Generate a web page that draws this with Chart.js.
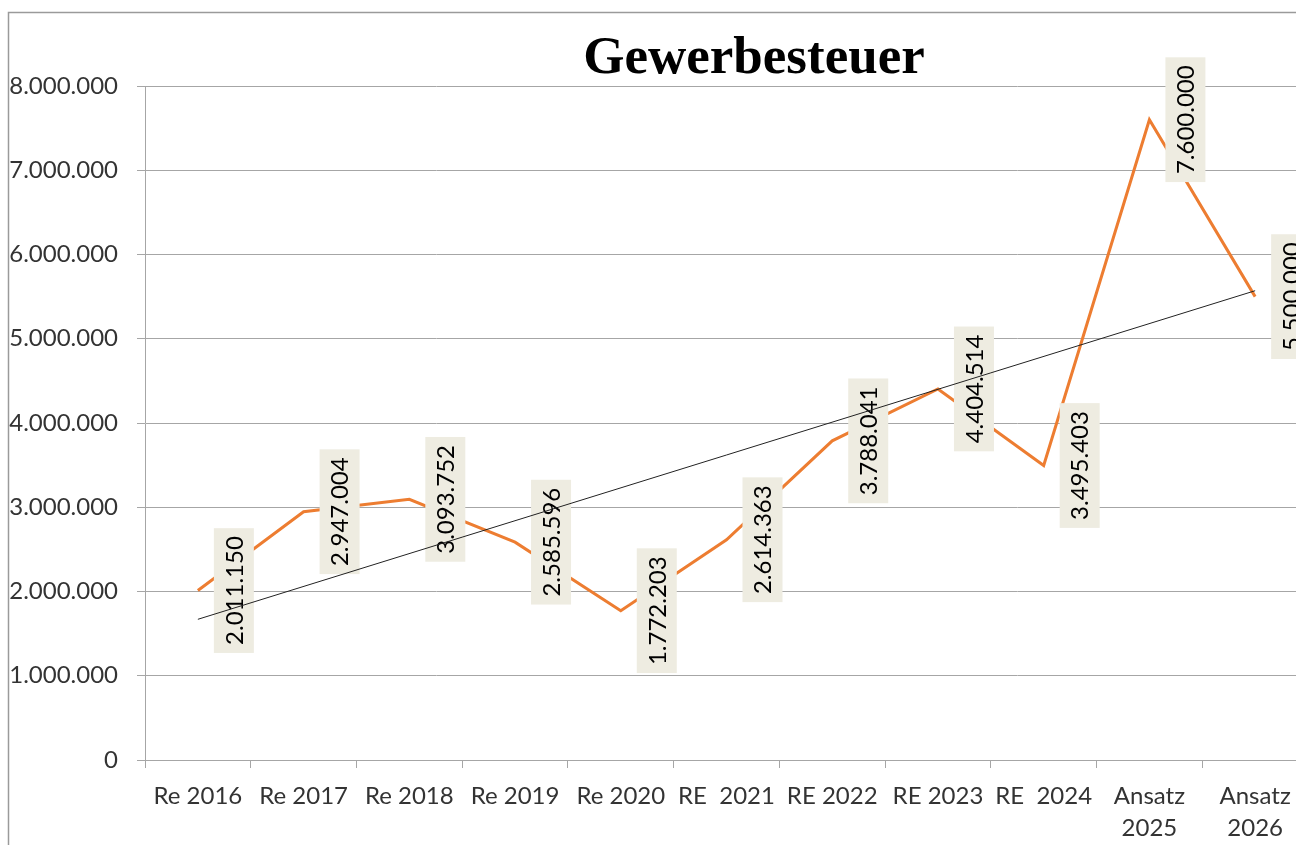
<!DOCTYPE html>
<html>
<head>
<meta charset="utf-8">
<script src="https://cdn.jsdelivr.net/npm/chart.js@4/dist/chart.umd.min.js"></script>
<style>
html,body{margin:0;padding:0;background:#fff;overflow:hidden;width:1296px;height:845px;}
#c{position:absolute;left:0;top:0;}
</style>
</head>
<body>
<canvas id="c" width="1330" height="845"></canvas>
<script>
const chartTitle = 'Gewerbesteuer';
const categories = ['Re 2016','Re 2017','Re 2018','Re 2019','Re 2020','RE  2021','RE 2022','RE 2023','RE  2024',['Ansatz','2025'],['Ansatz','2026']];
const values = [2011150, 2947004, 3093752, 2585596, 1772203, 2614363, 3788041, 4404514, 3495403, 7600000, 5500000];
const trendValues = [1670000, null, null, null, null, null, null, null, null, null, 5570000];
const yMin = 0, yMax = 8000000, yStep = 1000000;

function fmt(v){ return String(Math.round(v)).replace(/\B(?=(\d{3})+(?!\d))/g,'.'); }

const FONT = 'Lato, "Open Sans", sans-serif';
const GRID = '#a6a6a6';

const framePlugin = {
  id:'frame',
  beforeDraw(chart){
    const ctx = chart.ctx;
    ctx.save();
    ctx.strokeStyle = '#9a9a9a';
    ctx.lineWidth = 1.5;
    ctx.beginPath();
    ctx.moveTo(8.5, 900);
    ctx.lineTo(8.5, 12.5);
    ctx.lineTo(1400, 12.5);
    ctx.stroke();
    ctx.fillStyle = '#000';
    ctx.font = 'bold 53px "Liberation Serif", serif';
    ctx.textAlign = 'center';
    ctx.textBaseline = 'alphabetic';
    ctx.fillText(chartTitle, 754, 73);
    ctx.restore();
  }
};

const labelPlugin = {
  id:'vlabels',
  afterDatasetDraw(chart, args){
    if (args.index !== 0) return;
    const ctx = chart.ctx;
    const meta = args.meta;
    ctx.save();
    ctx.font = '24px ' + FONT;
    meta.data.forEach((pt, i) => {
      const txt = fmt(values[i]);
      const w = ctx.measureText(txt).width;
      const len = w + 16;
      const thick = 40;
      const cx = pt.x + 16 + thick/2;
      const cy = pt.y;
      ctx.save();
      ctx.translate(cx, cy);
      ctx.rotate(-Math.PI/2);
      ctx.fillStyle = '#eeece1';
      ctx.fillRect(-len/2, -thick/2, len, thick);
      ctx.fillStyle = '#000';
      ctx.textAlign = 'center';
      ctx.textBaseline = 'middle';
      ctx.fillText(txt, 0, 1);
      ctx.restore();
    });
    ctx.restore();
  }
};

new Chart(document.getElementById('c'), {
  type:'line',
  data:{
    labels: categories,
    datasets:[
      {data: values, borderColor:'#ed7d31', borderWidth:3, pointRadius:0, tension:0, fill:false, order:1},
      {data: trendValues, borderColor:'#222', borderWidth:1, pointRadius:0, spanGaps:true, fill:false, order:0}
    ]
  },
  options:{
    responsive:false,
    animation:false,
    devicePixelRatio:1,
    layout:{padding:{top:86,left:0,right:22,bottom:0}},
    plugins:{legend:{display:false},tooltip:{enabled:false},title:{display:false}},
    scales:{
      x:{
        offset:true,
        grid:{offset:true, drawOnChartArea:false, drawTicks:true, tickLength:8, color:GRID},
        border:{color:GRID, width:1},
        ticks:{color:'#333', font:{family:FONT, size:24, lineHeight:1.3}, padding:13, maxRotation:0, autoSkip:false},
        afterFit(s){ s.height = 85; }
      },
      y:{
        min:yMin, max:yMax,
        grid:{color:GRID, tickLength:8, drawTicks:true},
        border:{color:GRID, width:1},
        ticks:{stepSize:yStep, color:'#333', font:{family:FONT, size:24}, padding:19, callback:(v)=>fmt(v)},
        afterFit(s){ s.width = 145; }
      }
    }
  },
  plugins:[framePlugin, labelPlugin]
});
</script>
</body>
</html>
